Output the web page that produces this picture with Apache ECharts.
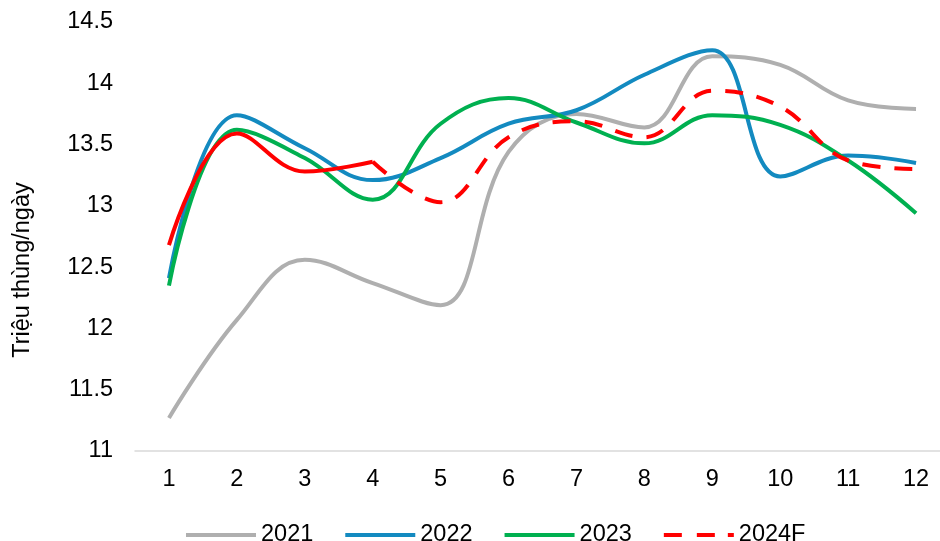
<!DOCTYPE html>
<html>
<head>
<meta charset="utf-8">
<script src="https://cdn.jsdelivr.net/npm/echarts@6/dist/echarts.min.js"></script>
<style>
html,body{margin:0;padding:0;background:#fff;}
#chart{width:940px;height:541px;}
</style>
</head>
<body>
<div id="chart"></div>
<script>
var categories = ['1','2','3','4','5','6','7','8','9','10','11','12'];
var y2021 = [11.27, 12.07, 12.56, 12.37, 12.19, 13.44, 13.75, 13.64, 14.22, 14.15, 13.86, 13.79];
var y2022 = [12.41, 13.74, 13.47, 13.21, 13.39, 13.67, 13.78, 14.07, 14.27, 13.24, 13.41, 13.35];
var y2023 = [12.35, 13.62, 13.39, 13.05, 13.67, 13.88, 13.68, 13.51, 13.74, 13.66, 13.37, 12.94];
var y2024 = [12.68, 13.59, 13.28, 13.36, 13.03, 13.56, 13.69, 13.56, 13.94, 13.81, 13.37, 13.30];
var actualCount = 4; // months 1-4 actual (solid), rest forecast (dashed)
var yTicks = [11, 11.5, 12, 12.5, 13, 13.5, 14, 14.5];
var yAxisName = 'Triệu thùng/ngày';

var y2024Actual = y2024.map(function(v, i){ return i < actualCount ? v : null; });
var y2024Forecast = y2024.map(function(v, i){ return i >= actualCount - 1 ? v : null; });

var FONT = '"Liberation Sans", Arial, sans-serif';
var FS = 23.5;
var SM = 0.4;
var solidIcon = 'path://M0,0H70V4H0Z';
var dashIcon = 'path://M0,0H18V4H0Z M33,0H51V4H33Z M64,0H70V4H64Z';
var chart = echarts.init(document.getElementById('chart'));
chart.setOption({
  animation: false,
  textStyle: { fontFamily: FONT },
  grid: { left: 135, width: 815, top: 22, height: 429, containLabel: false, outerBoundsMode: 'none' },
  legend: {
    data: [
      { name: '2021', icon: solidIcon },
      { name: '2022', icon: solidIcon },
      { name: '2023', icon: solidIcon },
      { name: '2024F', icon: dashIcon }
    ],
    top: 518,
    left: 181,
    itemWidth: 70,
    itemHeight: 4,
    itemGap: 32,
    itemStyle: { borderWidth: 0 },
    textStyle: { fontSize: FS, color: '#000', fontFamily: FONT }
  },
  xAxis: {
    type: 'category',
    data: categories,
    boundaryGap: true,
    axisLine: { show: true, lineStyle: { color: '#D9D9D9', width: 1.5 } },
    axisTick: { show: false },
    axisLabel: { fontSize: FS, color: '#000', margin: 17, fontFamily: FONT },
    splitLine: { show: false }
  },
  yAxis: {
    type: 'value',
    min: yTicks[0],
    max: yTicks[yTicks.length - 1],
    interval: 0.5,
    axisLine: { show: false },
    axisTick: { show: false },
    splitLine: { show: false },
    axisLabel: { fontSize: FS, color: '#000', margin: 22, fontFamily: FONT }
  },
  graphic: [{
    type: 'text',
    x: 23, y: 270,
    rotation: Math.PI / 2,
    style: {
      text: yAxisName,
      fontSize: FS,
      fontFamily: FONT,
      fill: '#000',
      textAlign: 'center',
      textVerticalAlign: 'middle'
    }
  }],
  series: [
    { name: '2021', type: 'line', data: y2021, smooth: SM, showSymbol: false, symbol: 'none',
      lineStyle: { color: '#AFAFAF', width: 4 }, itemStyle: { color: '#AFAFAF' } },
    { name: '2022', type: 'line', data: y2022, smooth: SM, showSymbol: false, symbol: 'none',
      lineStyle: { color: '#138AC0', width: 4 }, itemStyle: { color: '#138AC0' } },
    { name: '2023', type: 'line', data: y2023, smooth: SM, showSymbol: false, symbol: 'none',
      lineStyle: { color: '#00B050', width: 4 }, itemStyle: { color: '#00B050' } },
    { name: '2024', type: 'line', data: y2024Actual, smooth: SM, showSymbol: false, symbol: 'none',
      lineStyle: { color: '#FF0000', width: 4 }, itemStyle: { color: '#FF0000' } },
    { name: '2024F', type: 'line', data: y2024Forecast, smooth: SM, showSymbol: false, symbol: 'none',
      lineStyle: { color: '#FF0000', width: 4, type: [18, 14] }, itemStyle: { color: '#FF0000' } }
  ]
});
</script>
</body>
</html>
